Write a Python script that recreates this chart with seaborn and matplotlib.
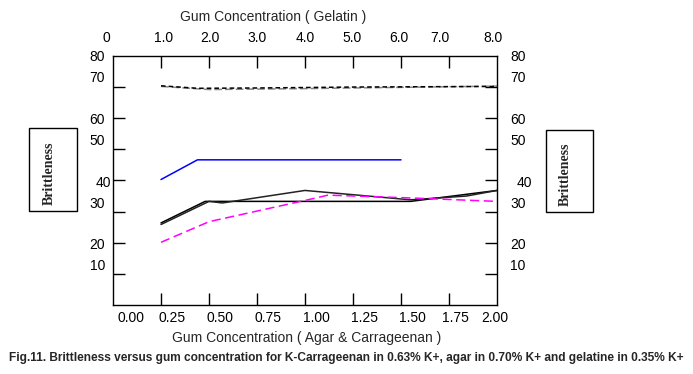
import matplotlib
matplotlib.use("Agg")
import matplotlib.pyplot as plt
import seaborn as sns
import numpy as np
from matplotlib.patches import Rectangle

# ---------------- data (x in agar/carrageenan units, y = brittleness) -------------
x_dash_black = [0.25, 0.44, 0.75, 1.25, 2.0]
y_dash_black = [70.3, 69.5, 69.6, 69.9, 70.1]

x_dash_grey = [0.25, 0.5, 1.0, 1.5, 2.0]
y_dash_grey = [70.1, 69.1, 69.4, 69.8, 70.2]

x_blue = [0.25, 0.44, 1.5]
y_blue = [40.3, 46.6, 46.6]

x_black_a = [0.25, 0.48, 1.55, 2.0]
y_black_a = [26.4, 33.3, 33.3, 36.8]

x_black_b = [0.25, 0.5, 0.57, 1.0, 1.55, 1.84, 2.0]
y_black_b = [25.9, 33.3, 32.8, 36.8, 33.8, 35.0, 36.8]

x_magenta = [0.25, 0.5, 1.0, 1.12, 1.55, 2.0]
y_magenta = [20.2, 26.8, 33.6, 35.3, 34.4, 33.3]

# tick marks
x_tick_marks = [0.25, 0.5, 0.75, 1.0, 1.25, 1.5, 1.75]
y_tick_marks = [10, 20, 30, 40, 50, 60, 70]

# tick labels (as printed in the figure, with their printed positions)
bottom_labels = ["0.00", "0.25", "0.50", "0.75", "1.00", "1.25", "1.50", "1.75", "2.00"]
bottom_label_pos = [0.092, 0.306, 0.557, 0.807, 1.061, 1.3125, 1.561, 1.781, 1.99]
top_labels = ["0", "1.0", "2.0", "3.0", "4.0", "5.0", "6.0", "7.0", "8.0"]
top_label_pos = [-0.033, 0.263, 0.505, 0.75, 1.0, 1.243, 1.49, 1.703, 1.981]
y_labels = ["80", "70", "60", "50", "40", "30", "20", "10"]
y_label_pos = [79.6, 72.7, 59.3, 52.7, 39.3, 32.5, 19.2, 12.5]
y_label_shift = [0, 0, 0, 0, 1, 0, 0, 0]   # "40" sits closer to the axis

top_title = "Gum Concentration ( Gelatin )"
bottom_title = "Gum Concentration ( Agar & Carrageenan )"
y_title = "Brittleness"
caption = ("Fig.11. Brittleness versus gum concentration for K-Carrageenan in 0.63% K+, "
           "agar in 0.70% K+ and gelatine in 0.35% K+")

# ---------------- figure ----------------
sns.set_theme(style="white")
plt.rcParams["font.family"] = ["Liberation Sans", "DejaVu Sans"]

W, H = 693, 374
fig = plt.figure(figsize=(W / 100, H / 100), dpi=100)
ax_l, ax_r, ax_t, ax_b = 113, 497, 55.5, 305.4
ax = fig.add_axes([ax_l / W, 1 - ax_b / H, (ax_r - ax_l) / W, (ax_b - ax_t) / H])
ax.set_xlim(0, 2)
ax.set_ylim(0, 80)

lw = 1.1
sns.lineplot(x=x_dash_grey, y=y_dash_grey, ax=ax, color="#888888", lw=lw,
             linestyle=(0, (5, 2)), estimator=None)
sns.lineplot(x=x_dash_black, y=y_dash_black, ax=ax, color="black", lw=lw,
             linestyle=(0, (3, 2)), estimator=None)
sns.lineplot(x=x_blue, y=y_blue, ax=ax, color="#0000ff", lw=lw, estimator=None)
sns.lineplot(x=x_black_a, y=y_black_a, ax=ax, color="black", lw=lw, estimator=None)
sns.lineplot(x=x_black_b, y=y_black_b, ax=ax, color="#222222", lw=lw, estimator=None)
sns.lineplot(x=x_magenta, y=y_magenta, ax=ax, color="#ff00ff", lw=lw,
             linestyle=(0, (6, 3)), estimator=None)

for s in ax.spines.values():
    s.set_visible(True)
    s.set_color("black")
    s.set_linewidth(1.0)

ax.set_xticks(x_tick_marks)
ax.set_yticks(y_tick_marks)
ax.tick_params(axis="both", which="major", direction="in", length=8.6, width=1.0,
               color="black", top=True, right=True, bottom=True, left=True,
               labelbottom=False, labelleft=False, labeltop=False, labelright=False)
ax.set_xlabel("")
ax.set_ylabel("")
ax.grid(False)

fs = 10
xt = ax.get_xaxis_transform()
yt = ax.get_yaxis_transform()
for lab, p in zip(bottom_labels, bottom_label_pos):
    ax.text(p, 1 - (318.3 - ax_t) / (ax_b - ax_t), lab, transform=xt, ha="center",
            va="center", fontsize=fs, color="black", clip_on=False)
for lab, p in zip(top_labels, top_label_pos):
    ax.text(p, 1 + (ax_t - 37.7) / (ax_b - ax_t), lab, transform=xt, ha="center",
            va="center", fontsize=fs, color="black", clip_on=False)
axw = ax_r - ax_l
for lab, p, sh in zip(y_labels, y_label_pos, y_label_shift):
    dx = 6.5 if sh else 0
    ax.text((105 + dx - ax_l) / axw, p, lab, transform=yt, ha="right", va="center",
            fontsize=fs, color="black", clip_on=False)
    ax.text((510 + dx - ax_l) / axw, p, lab, transform=yt, ha="left", va="center",
            fontsize=fs, color="black", clip_on=False)

fig.text(273 / W, 1 - 17 / H, top_title, ha="center", va="center", fontsize=fs)
fig.text(307 / W, 1 - 338.3 / H, bottom_title, ha="center", va="center", fontsize=fs)
fig.text(346 / W, 1 - 358.3 / H, caption, ha="center", va="center", fontsize=8.55,
         fontweight="bold")

# y-axis title boxes
for (bx0, bx1, by0, by1, tx, ty) in [(29, 77, 128, 211, 49.3, 173.3),
                                     (545.7, 593, 129.7, 212, 565.3, 174.5)]:
    fig.patches.append(Rectangle((bx0 / W, 1 - by1 / H), (bx1 - bx0) / W, (by1 - by0) / H,
                                 transform=fig.transFigure, fill=False,
                                 edgecolor="black", linewidth=1.0))
    fig.text(tx / W, 1 - ty / H, y_title, rotation=90, ha="center", va="center",
             fontsize=10, fontweight="bold", family=["Liberation Serif", "DejaVu Serif"])

fig.savefig("out.png", dpi=100, facecolor="white")
